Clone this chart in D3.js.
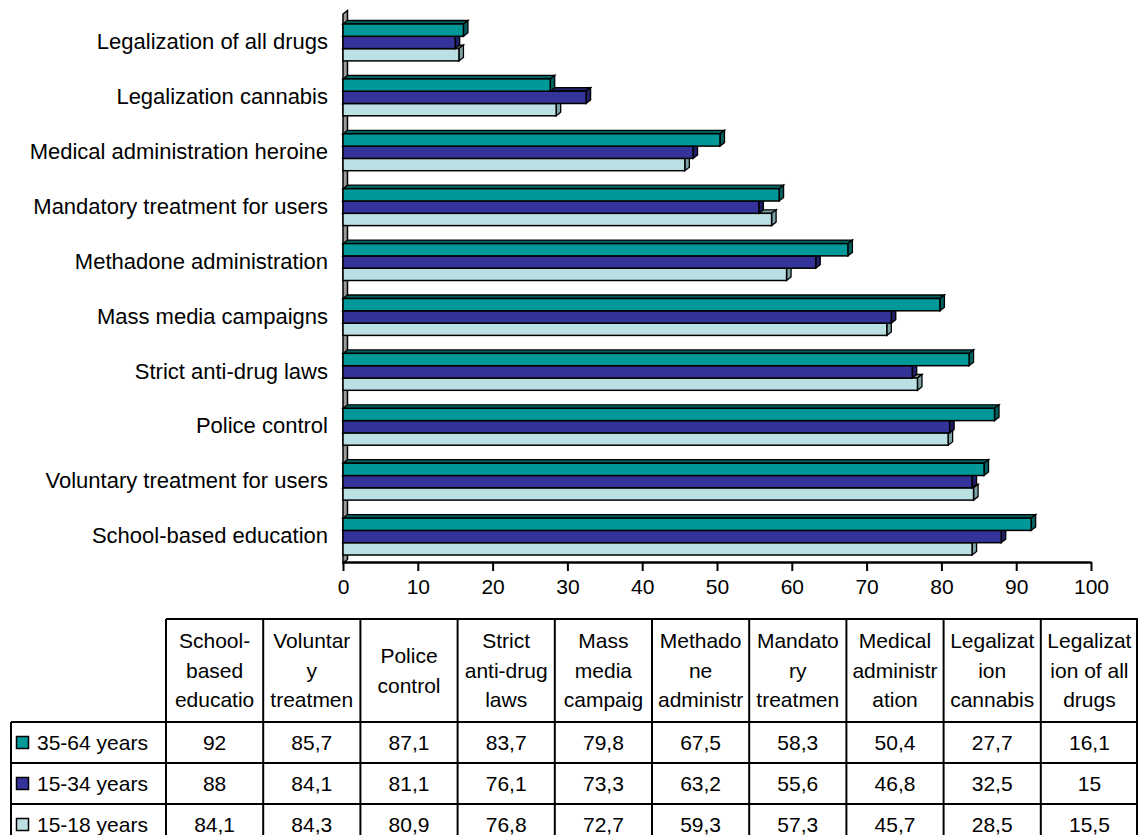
<!DOCTYPE html>
<html>
<head>
<meta charset="utf-8">
<script src="https://cdn.jsdelivr.net/npm/d3@7"></script>
<style>
  body { margin: 0; background: #fff; }
  svg { display: block; font-family: "Liberation Sans", Arial, sans-serif; }
</style>
</head>
<body>
<div id="vis"></div>
<script>
const width = 1138
const height = 835

// data, in table order (bottom of the chart first)
const categories = [
  "School-based education", "Voluntary treatment for users", "Police control",
  "Strict anti-drug laws", "Mass media campaigns", "Methadone administration",
  "Mandatory treatment for users", "Medical administration heroine",
  "Legalization cannabis", "Legalization of all drugs"
]
const headerLabels = [
  ["School-", "based", "educatio"], ["Voluntar", "y", "treatmen"], ["Police", "control"],
  ["Strict", "anti-drug", "laws"], ["Mass", "media", "campaig"], ["Methado", "ne", "administr"],
  ["Mandato", "ry", "treatmen"], ["Medical", "administr", "ation"], ["Legalizat", "ion", "cannabis"],
  ["Legalizat", "ion of all", "drugs"]
]
const seriesNames = ["35-64 years", "15-34 years", "15-18 years"]
const colors = ["#009999", "#333399", "#bbe0e3"]
const sides = ["#006060", "#1f1f66", "#7ea3a6"]
const age35_64 = [92, 85.7, 87.1, 83.7, 79.8, 67.5, 58.3, 50.4, 27.7, 16.1]
const age15_34 = [88, 84.1, 81.1, 76.1, 73.3, 63.2, 55.6, 46.8, 32.5, 15]
const age15_18 = [84.1, 84.3, 80.9, 76.8, 72.7, 59.3, 57.3, 45.7, 28.5, 15.5]
const ticks = [0, 10, 20, 30, 40, 50, 60, 70, 80, 90, 100]
const series = [age35_64, age15_34, age15_18]

const fmt = v => String(v).replace(".", ",")

var svg = d3.select("#vis")
  .append("svg")
  .attr("width", width)
  .attr("height", height)

var x = d3.scaleLinear().domain([0, 100]).range([343, 1091])
// top of chart is the last category
var y = d3.scaleBand().domain(categories.slice().reverse()).range([14, 563])

const dx = 4.5, dy = -3.5
const barH = 12.3
const groupOff = 10

// left wall
svg.append("path")
  .attr("d", `M${x(0)},${y.range()[0]} L${x(0) + dx},${y.range()[0] + dy} L${x(0) + dx},${y.range()[1] + dy} L${x(0)},${y.range()[1]} Z`)
  .attr("fill", "#9a9a9a")
  .attr("stroke", "#000")
  .attr("stroke-width", 1.5)

// bars, bottom bar of each group drawn first so upper bars overlap
categories.forEach((cat, ci) => {
  const g = svg.append("g")
  for (let s = 2; s >= 0; s--) {
    const v = series[s][ci]
    const y0 = y(cat) + groupOff + s * barH
    const x0 = x(0), x1 = x(v)
    g.append("path")
      .attr("d", `M${x0},${y0} L${x0 + dx},${y0 + dy} L${x1 + dx},${y0 + dy} L${x1},${y0} Z`)
      .attr("fill", sides[s]).attr("stroke", "#000").attr("stroke-width", 1.3)
    g.append("path")
      .attr("d", `M${x1},${y0} L${x1 + dx},${y0 + dy} L${x1 + dx},${y0 + barH + dy} L${x1},${y0 + barH} Z`)
      .attr("fill", sides[s]).attr("stroke", "#000").attr("stroke-width", 1.3)
    g.append("rect")
      .attr("x", x0).attr("y", y0)
      .attr("width", x1 - x0).attr("height", barH)
      .attr("fill", colors[s]).attr("stroke", "#000").attr("stroke-width", 1.5)
  }
})

// category labels
svg.append("g").selectAll("text")
  .data(categories)
  .join("text")
  .attr("x", 328)
  .attr("y", d => y(d) + y.bandwidth() / 2)
  .attr("dy", "0.35em")
  .attr("text-anchor", "end")
  .attr("font-size", "22px")
  .text(d => d)

// x axis
var xAxis = svg.append("g")
  .attr("transform", `translate(0,${y.range()[1] - 1})`)
  .call(d3.axisBottom(x).tickValues(ticks).tickSize(9).tickSizeOuter(0).tickPadding(8))
xAxis.select(".domain").attr("stroke-width", 2.5)
xAxis.selectAll(".tick line").attr("stroke-width", 2)
xAxis.selectAll("text").attr("font-size", "21px").attr("font-family", "Liberation Sans, Arial, sans-serif")

// data table
const colX = d3.scaleBand().domain(categories).range([166, 1138])
const tTop = 619, hBot = 722, rowH = 41
const table = svg.append("g").attr("stroke", "#000").attr("stroke-width", 2)

table.append("line").attr("x1", 166).attr("x2", 1138).attr("y1", tTop).attr("y2", tTop)
table.append("line").attr("x1", 11).attr("x2", 1138).attr("y1", hBot).attr("y2", hBot)
seriesNames.forEach((s, i) => {
  table.append("line").attr("x1", 11).attr("x2", 1138)
    .attr("y1", hBot + rowH * (i + 1)).attr("y2", hBot + rowH * (i + 1))
})
table.append("line").attr("x1", 11).attr("x2", 11).attr("y1", hBot).attr("y2", height)
categories.forEach(c => {
  table.append("line").attr("x1", colX(c)).attr("x2", colX(c)).attr("y1", tTop).attr("y2", height)
})
table.append("line").attr("x1", 1137).attr("x2", 1137).attr("y1", tTop).attr("y2", height)

// header text
categories.forEach((c, i) => {
  const lines = headerLabels[i]
  const cy = (tTop + hBot) / 2
  const lh = 29.5
  const t = svg.append("text")
    .attr("text-anchor", "middle")
    .attr("font-size", "21px")
  lines.forEach((ln, j) => {
    t.append("tspan")
      .attr("x", colX(c) + colX.bandwidth() / 2)
      .attr("y", cy + (j - (lines.length - 1) / 2) * lh)
      .attr("dy", "0.35em")
      .text(ln)
  })
})

// rows
seriesNames.forEach((s, i) => {
  const cy = hBot + rowH * i + rowH / 2
  svg.append("rect")
    .attr("x", 16.5).attr("y", cy - 6).attr("width", 12).attr("height", 12)
    .attr("fill", colors[i]).attr("stroke", "#000").attr("stroke-width", 1.5)
  svg.append("text")
    .attr("x", 37).attr("y", cy).attr("dy", "0.35em")
    .attr("font-size", "21px")
    .text(s)
  svg.append("g").selectAll("text")
    .data(series[i])
    .join("text")
    .attr("x", (d, j) => colX(categories[j]) + colX.bandwidth() / 2)
    .attr("y", cy)
    .attr("dy", "0.35em")
    .attr("text-anchor", "middle")
    .attr("font-size", "21px")
    .text(d => fmt(d))
})
</script>
</body>
</html>
